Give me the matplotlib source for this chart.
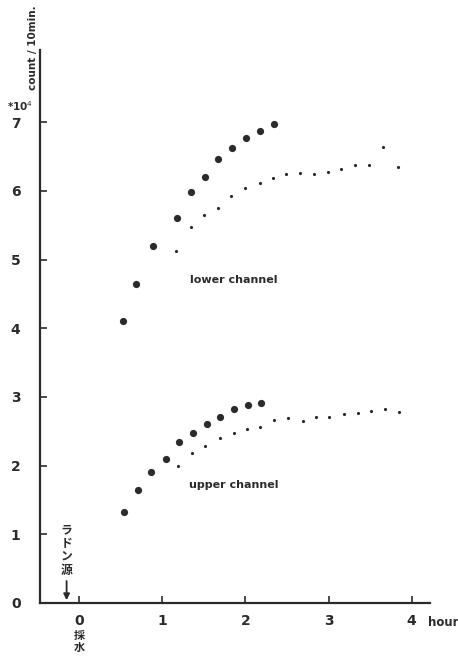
import matplotlib
matplotlib.use("Agg")
import matplotlib.pyplot as plt

plt.rcParams['font.family'] = ['DejaVu Sans', 'Noto Sans CJK JP']

# lower channel, large dots
lower_big_t = [0.53, 0.68, 0.89, 1.18, 1.34, 1.51, 1.67, 1.84, 2.01, 2.18, 2.34]
lower_big_c = [4.10, 4.64, 5.20, 5.61, 5.99, 6.20, 6.47, 6.62, 6.77, 6.87, 6.98]
# lower channel, small dots
lower_small_t = [1.17, 1.34, 1.50, 1.67, 1.83, 1.99, 2.17, 2.33, 2.49, 2.66, 2.83,
                 2.99, 3.15, 3.32, 3.49, 3.66, 3.83]
lower_small_c = [5.13, 5.47, 5.65, 5.75, 5.92, 6.04, 6.12, 6.18, 6.25, 6.26, 6.25,
                 6.28, 6.32, 6.37, 6.37, 6.64, 6.35]
# upper channel, large dots
upper_big_t = [0.54, 0.71, 0.87, 1.04, 1.20, 1.37, 1.54, 1.69, 1.86, 2.03, 2.19]
upper_big_c = [1.33, 1.65, 1.91, 2.10, 2.34, 2.48, 2.61, 2.71, 2.82, 2.88, 2.91]
# upper channel, small dots
upper_small_t = [1.19, 1.36, 1.52, 1.69, 1.86, 2.02, 2.18, 2.35, 2.51, 2.69, 2.85,
                 3.01, 3.18, 3.35, 3.51, 3.68, 3.85]
upper_small_c = [2.00, 2.18, 2.29, 2.40, 2.48, 2.54, 2.56, 2.66, 2.70, 2.65, 2.71,
                 2.71, 2.75, 2.76, 2.79, 2.82, 2.78]

x_ticks = [0, 1, 2, 3, 4]
y_ticks = [0, 1, 2, 3, 4, 5, 6, 7]

ink = '#2b2b2b'
cjk = ['Noto Sans CJK JP', 'DejaVu Sans']

fig = plt.figure(figsize=(4.58, 6.56), dpi=100)
ax = fig.add_axes([40/458, 53/656, (430-40)/458, (603-50)/656])
ax.set_xlim(-0.47, 4.22)
ax.set_ylim(0, 8.05)

ax.plot(lower_big_t, lower_big_c, 'o', color=ink, ms=5.2, mec='none')
ax.plot(upper_big_t, upper_big_c, 'o', color=ink, ms=5.2, mec='none')
ax.plot(lower_small_t, lower_small_c, 'o', color=ink, ms=2.3, mec='none')
ax.plot(upper_small_t, upper_small_c, 'o', color=ink, ms=2.3, mec='none')

for s in ['top', 'right']:
    ax.spines[s].set_visible(False)
for s in ['left', 'bottom']:
    ax.spines[s].set_linewidth(1.6)
    ax.spines[s].set_color(ink)

ax.set_xticks(x_ticks)
ax.set_yticks(y_ticks)
ax.tick_params(direction='in', length=5, width=1.2, colors=ink, labelsize=10)
ax.tick_params(axis='x', pad=8)
ax.tick_params(axis='y', pad=14)
for lab in ax.get_xticklabels() + ax.get_yticklabels():
    lab.set_fontweight('bold')

ax.text(1.86, 4.7, 'lower channel', ha='center', va='center',
        fontsize=8, fontweight='bold', color=ink)
ax.text(1.86, 1.72, 'upper channel', ha='center', va='center',
        fontsize=8, fontweight='bold', color=ink)

fig.text(428/458, 1 - 622/656, 'hour', ha='left', va='center',
         fontsize=8.5, fontweight='bold', color=ink)
fig.text(33/458, 1 - 48/656, 'count / 10min.', rotation=90, ha='center',
         va='center', fontsize=7.5, fontweight='bold', color=ink)
fig.text(20/458, 1 - 106/656, '*10$^4$', ha='center', va='center',
         fontsize=7.5, fontweight='bold', color=ink)

# Radon source marker
ax.annotate('', xy=(-0.15, 0), xytext=(-0.15, 0.36),
            arrowprops=dict(arrowstyle='-|>', color=ink, lw=1.3,
                            mutation_scale=9))
ax.text(-0.15, 0.38, 'ラ\nド\nン\n源', ha='center', va='bottom',
        fontsize=8.5, fontweight='bold', color=ink, linespacing=1.05,
        family=cjk)
fig.text(79/458, 1 - 654/656, '採\n水', ha='center', va='bottom',
         fontsize=8, fontweight='bold', color=ink, linespacing=0.95,
         family=cjk)

fig.savefig('out.png', dpi=100)
